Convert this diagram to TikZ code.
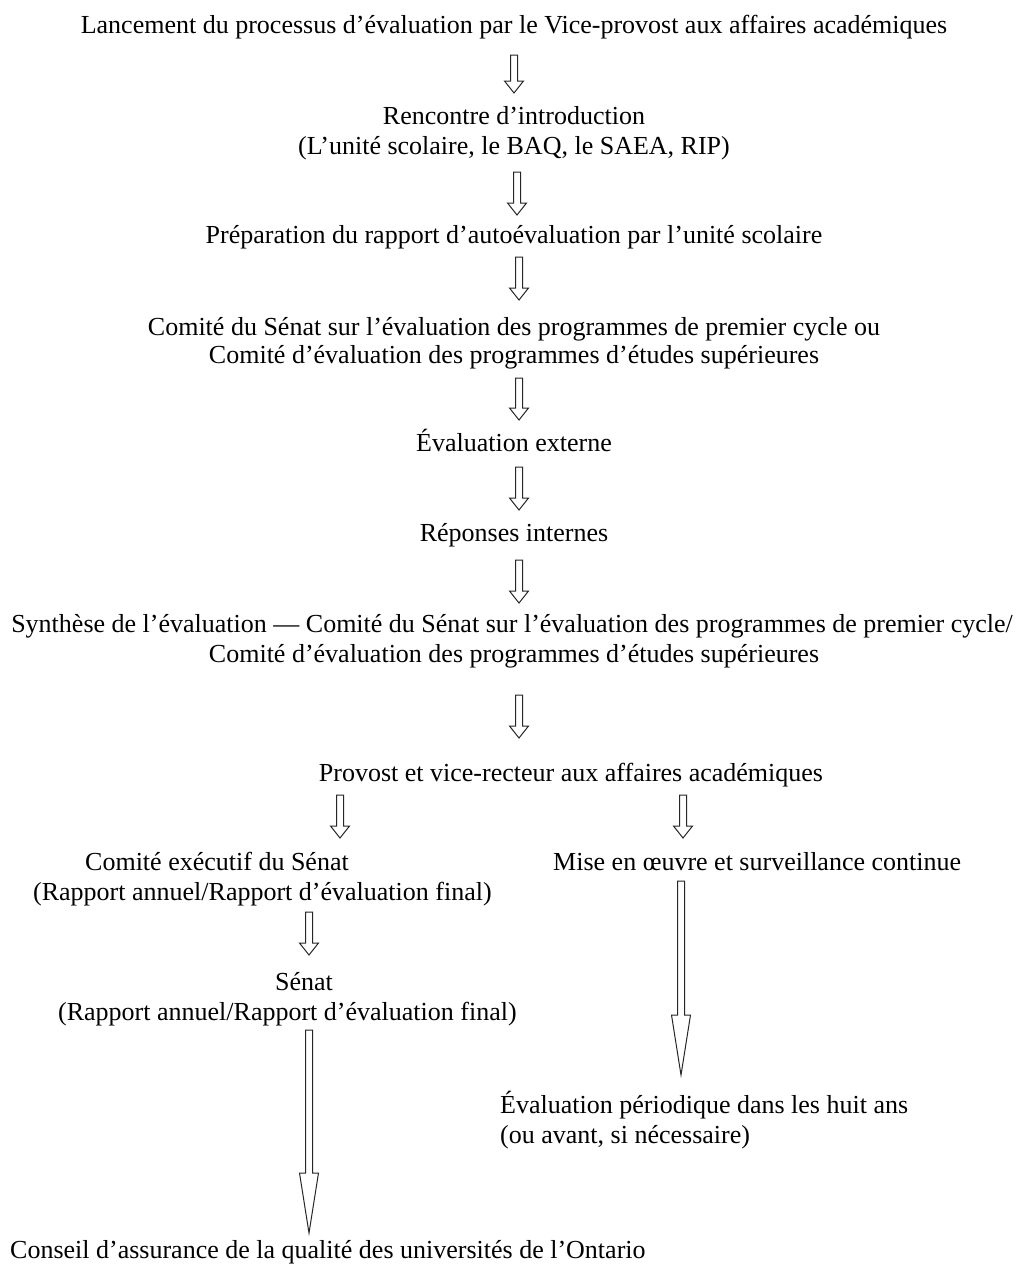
\documentclass[tikz,border=0pt]{standalone}
\usepackage{fontspec}
\setmainfont{Liberation Serif}
\begin{document}
\begin{tikzpicture}[x=1pt,y=-1pt,
  lbl/.style={inner sep=0pt, anchor=base, font=\fontsize{26}{30}\selectfont},
  lblw/.style={inner sep=0pt, anchor=base west, font=\fontsize{26}{30}\selectfont},
  harrow/.style={draw=black!85, line width=1pt, fill=white, line join=miter}]
\useasboundingbox (0,0) rectangle (1020,1266);
% arrow: x, ytop, ytip, headlength
\newcommand\harr[4]{\draw[harrow] (#1-3.5,#2) -- (#1+3.5,#2) -- (#1+3.5,#3-#4) -- (#1+9.5,#3-#4) -- (#1,#3) -- (#1-9.5,#3-#4) -- (#1-3.5,#3-#4) -- cycle;}

\node[lbl] (n1) at (514,33) {Lancement du processus d’évaluation par le Vice-provost aux affaires académiques};
\harr{514}{55}{93}{12}
\node[lbl] (n2a) at (514,124) {Rencontre d’introduction};
\node[lbl] (n2b) at (514,154) {(L’unité scolaire, le BAQ, le SAEA, RIP)};
\harr{517}{172}{215}{12}
\node[lbl] (n3) at (514,243) {Préparation du rapport d’autoévaluation par l’unité scolaire};
\harr{519}{257}{300}{12}
\node[lbl] (n4a) at (514,335) {Comité du Sénat sur l’évaluation des programmes de premier cycle ou};
\node[lbl] (n4b) at (514,363) {Comité d’évaluation des programmes d’études supérieures};
\harr{519}{378}{420}{12}
\node[lbl] (n5) at (514,451) {Évaluation externe};
\harr{519}{467}{510}{12}
\node[lbl] (n6) at (514,541) {Réponses internes};
\harr{519}{560}{603}{12}
\node[lbl] (n7a) at (512,632) {Synthèse de l’évaluation — Comité du Sénat sur l’évaluation des programmes de premier cycle/};
\node[lbl] (n7b) at (514,662) {Comité d’évaluation des programmes d’études supérieures};
\harr{519}{695}{738}{12}
\node[lbl] (n8) at (571,781) {Provost et vice-recteur aux affaires académiques};
\harr{340}{795}{838}{12}
\harr{683}{795}{838}{12}
\node[lblw] (n9a) at (85,870) {Comité exécutif du Sénat};
\node[lblw] (n9b) at (33,900) {(Rapport annuel/Rapport d’évaluation final)};
\node[lblw] (n9c) at (553,870) {Mise en œuvre et surveillance continue};
\harr{309}{912}{955}{12}
\node[lblw] (n10a) at (275,990) {Sénat};
\node[lblw] (n10b) at (58,1020) {(Rapport annuel/Rapport d’évaluation final)};
\harr{309}{1030}{1233}{60}
\harr{681}{881}{1075}{60}
\node[lblw] (n11a) at (500,1113) {Évaluation périodique dans les huit ans};
\node[lblw] (n11b) at (500,1143) {(ou avant, si nécessaire)};
\node[lblw] (n12) at (10,1258) {Conseil d’assurance de la qualité des universités de l’Ontario};
\end{tikzpicture}
\end{document}
